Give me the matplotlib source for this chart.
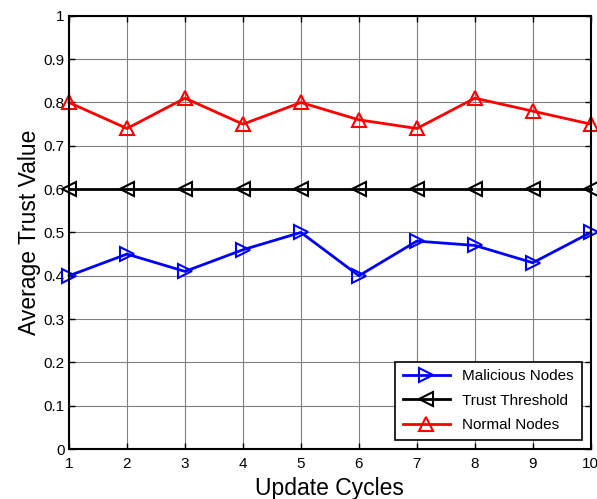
import matplotlib
matplotlib.use('Agg')
import matplotlib.pyplot as plt

plt.rcParams['font.family'] = ['Liberation Sans', 'DejaVu Sans']

cycles = [1, 2, 3, 4, 5, 6, 7, 8, 9, 10]
malicious = [0.40, 0.45, 0.41, 0.46, 0.50, 0.40, 0.48, 0.47, 0.43, 0.50]
threshold = [0.6] * 10
normal = [0.80, 0.74, 0.81, 0.75, 0.80, 0.76, 0.74, 0.81, 0.78, 0.75]

fig = plt.figure(figsize=(5.97, 4.99), dpi=100)
ax = fig.add_axes([0.1156, 0.1002, 0.874, 0.868])

style = dict(markersize=10, markerfacecolor='none', markeredgewidth=1.5, linewidth=2, clip_on=False)
ax.plot(cycles, malicious, color='#0000ff', marker='>', label='Malicious Nodes', **style)
ax.plot(cycles, threshold, color='black', marker='<', label='Trust Threshold', **style)
ax.plot(cycles, normal, color='#ff0000', marker='^', label='Normal Nodes', **style)

ax.set_xlim(1, 10)
ax.set_ylim(0, 1)
ax.set_xticks(cycles)
ax.set_xticklabels([str(c) for c in cycles])
yt = [0, 0.1, 0.2, 0.3, 0.4, 0.5, 0.6, 0.7, 0.8, 0.9, 1]
ax.set_yticks(yt)
ax.set_yticklabels(['0', '0.1', '0.2', '0.3', '0.4', '0.5', '0.6', '0.7', '0.8', '0.9', '1'])
ax.tick_params(direction='in', top=True, right=True, labelsize=11, length=4, width=1)
ax.tick_params(axis='x', pad=6)
ax.tick_params(axis='y', pad=3)
ax.grid(True, color='#808080', linewidth=0.8)
for s in ax.spines.values():
    s.set_linewidth(1.5)

ax.set_xlabel('Update Cycles', fontsize=16.5, labelpad=4)
ax.set_ylabel('Average Trust Value', fontsize=16.5, labelpad=2)

leg = ax.legend(loc='lower right', fontsize=11, fancybox=False, framealpha=1,
                edgecolor='black', borderaxespad=0.6, handlelength=3.1,
                labelspacing=0.68, borderpad=0.5)
leg.get_frame().set_linewidth(1.2)

fig.savefig('out.png', dpi=100)
